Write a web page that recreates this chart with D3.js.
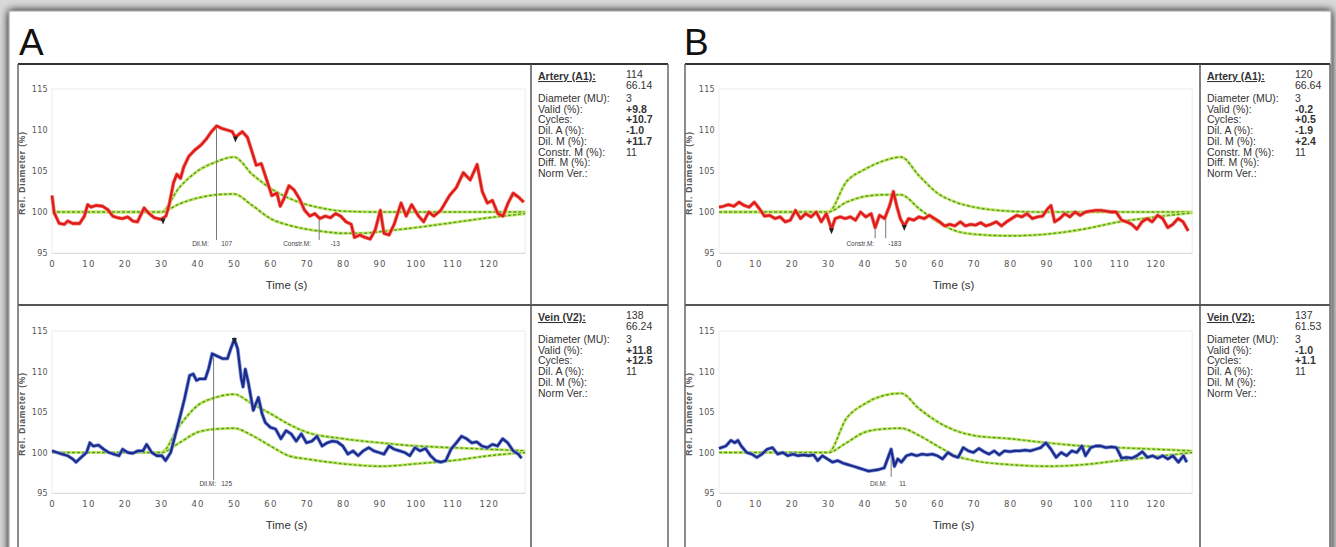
<!DOCTYPE html>
<html>
<head>
<meta charset="utf-8">
<script src="https://cdn.jsdelivr.net/npm/d3@7"></script>
<style>
  html, body { margin: 0; padding: 0; background: #d8d8d8; }
  svg { display: block; font-family: "Liberation Sans", Arial, sans-serif; }
</style>
</head>
<body>
<svg id="fig" width="1336" height="547"></svg>
<script>
// ---- data ----
const timeTicks = [0, 10, 20, 30, 40, 50, 60, 70, 80, 90, 100, 110, 120];
const diamTicks = [95, 100, 105, 110, 115];

// A, artery (red)
const arteryA = [[0,102.0],[0.6,99.9],[2,98.6],[3.4,98.5],[4.3,98.9],[5.7,98.6],[7.6,98.6],[8.9,99.5],[9.8,100.9],
  [10.7,100.6],[12.1,100.8],[13.9,100.7],[15.3,100.3],[16.7,99.5],[18,99.3],[19.4,99.2],[20.8,99.4],[22.2,98.9],
  [23.5,98.8],[25.3,100.5],[26.7,99.8],[28.1,99.3],[29.9,99.1],[31.3,99.5],[32.2,100.9],[33.4,103.6],[34.3,104.6],
  [35.3,104.1],[36.2,105.5],[37.6,106.8],[39.1,107.5],[41,108.2],[42.4,108.9],[43.8,109.8],[45.2,110.5],[46.6,110.2],
  [48.1,110.0],[49.5,109.8],[50.4,109.1],[51.4,109.5],[52.3,109.8],[53.7,109.1],[54.7,107.7],[56.1,105.7],[57.5,105.9],
  [59,103.9],[60.4,102.0],[61.8,102.3],[62.7,100.7],[63.7,101.6],[65.1,103.2],[66.5,102.7],[68,101.6],[69.4,100.2],
  [70.8,99.5],[72.2,99.8],[73.6,99.2],[75.1,99.5],[76.5,99.3],[77.9,99.8],[79.3,99.5],[80.8,98.8],[82.2,98.5],
  [83.1,96.9],[84.5,97.2],[86,96.9],[87.4,96.7],[88.8,97.8],[90.2,100.2],[91.2,97.4],[92.6,97.2],[94,98.5],
  [95.9,101.1],[97.3,99.5],[98.8,100.9],[100.7,99.5],[102.1,98.8],[103.5,100.0],[104.9,99.5],[106.8,100.2],
  [109.2,102.0],[111.1,103.0],[113,104.8],[114.9,103.9],[116.8,105.8],[118.2,102.5],[119.6,101.1],[121,101.4],
  [122.5,99.8],[123.9,99.5],[125.3,101.1],[126.7,102.3],[128.2,101.8],[129.6,101.2]];
const arteryAUpper = [[0,100],[30,100],[35,103.0],[40,105.0],[45,106.1],[50,106.7],[55,104.6],[60,102.9],[65,101.7],
  [70,100.9],[75,100.4],[80,100.1],[90,100],[130,100]];
const arteryALower = [[0,100],[30,100],[35,101.0],[40,101.7],[45,102.1],[50,102.2],[55,100.8],[60,99.2],[65,98.4],
  [70,97.9],[75,97.6],[80,97.4],[85,97.4],[90,97.6],[100,98.1],[110,98.7],[120,99.3],[130,99.8]];

// A, vein (blue)
const veinA = [[0,100.2],[1.4,100],[2.8,99.8],[4.3,99.6],[5.7,99.2],[6.6,98.8],[8,99.4],[9.5,100],[10.4,101.2],
  [11.3,100.8],[12.8,100.9],[14.2,100.4],[15.6,100],[17,99.8],[18.4,99.6],[19.4,100.4],[20.8,100],[22.2,99.9],
  [23.6,100.2],[25,100.2],[26,101.0],[27.4,100],[28.8,99.6],[30.2,99.6],[31.2,99.0],[32.6,100],[33.6,101.7],
  [35,104.1],[36.4,106.6],[37.8,109.5],[38.8,109.7],[39.7,108.9],[40.6,109.1],[42.1,109.1],[43,110.3],[44,112.2],
  [45.4,111.9],[46.8,111.6],[48.2,111.6],[49.1,112.8],[50.1,114.0],[51,112.8],[52,109.1],[52.5,108.1],[53.1,110.3],
  [53.9,108.7],[55.3,105.2],[56.7,106.8],[57.7,104.8],[58.6,103.7],[60,103.1],[61.4,102.9],[62.9,101.7],[64.3,102.7],
  [65.7,102.3],[67.1,101.4],[68.5,102.3],[69.9,101.2],[71.4,101.4],[72.8,102.0],[74.2,100.8],[75.6,101.2],[77,101.4],
  [78.4,101.3],[79.9,100.8],[81.3,99.8],[82.7,100.2],[84.1,99.6],[85.5,100.2],[87,100.6],[88.4,100.2],[89.8,100],
  [91.2,99.8],[92.6,100.8],[94,100.4],[95.5,100.2],[96.9,100],[98.3,99.6],[99.7,100.6],[101.1,100.2],[102.6,100.5],
  [104,99.6],[105.4,99.0],[106.8,98.8],[108.2,99.0],[109.6,100.4],[111.1,101.2],[112.5,102.0],[113.9,101.7],
  [115.3,101.2],[116.7,101.3],[118.1,100.8],[119.6,100.6],[121,101.0],[122.4,100.8],[123.8,101.7],[125.2,101.2],
  [126.7,100.2],[128.1,99.8],[129,99.3]];
const veinAUpper = [[0,100],[30,100],[35,103.3],[40,105.8],[45,106.8],[50,107.2],[55,106.0],[60,104.8],[65,103.5],
  [70,102.5],[80,101.7],[90,101.2],[100,100.8],[110,100.6],[120,100.4],[130,100.2]];
const veinALower = [[0,100],[30,100],[35,101.2],[40,102.5],[45,102.9],[50,103.0],[55,102.1],[60,100.8],[65,99.6],
  [70,99.2],[80,98.6],[90,98.3],[100,98.6],[110,99.0],[120,99.6],[130,100]];

// B, artery (red)
const arteryB = [[0,100.6],[1.2,100.7],[2.6,100.9],[4.1,100.7],[5.5,101.2],[6.9,100.8],[8.3,100.6],[9.7,101.2],
  [11.1,100.4],[12.5,99.5],[13.9,99.6],[15.4,99.2],[16.8,99.4],[18.2,98.8],[19.6,99.0],[21,100.2],[22.4,99.2],
  [23.8,99.8],[25.3,99.4],[26.7,100],[28.1,98.8],[29.5,99.8],[30.9,97.9],[31.9,99.2],[33.3,99.4],[34.7,99.2],
  [36.1,99.4],[37.5,99.0],[38.9,100],[40.3,99.4],[41.8,99.8],[42.9,98.1],[44.1,99.6],[45.5,99.2],[46.9,100.8],
  [47.9,102.5],[48.8,100.8],[49.8,99.2],[50.9,98.3],[52.1,99.2],[53.5,99.0],[54.9,99.4],[56.4,99.2],[57.8,99.6],
  [59.2,99.2],[60.6,98.8],[62,98.3],[63.4,98.5],[64.8,98.3],[66.3,98.8],[67.7,98.3],[69.1,98.5],[70.5,98.4],
  [71.9,98.7],[73.3,98.3],[74.7,98.5],[76.2,98.8],[77.6,98.3],[79,98.8],[80.4,99.2],[81.8,99.6],[83.2,99.4],
  [84.6,99.8],[86.1,99.2],[87.5,99.4],[88.9,99.5],[90.3,100.4],[91.2,100.8],[92.2,98.8],[93.6,99.2],[95,99.8],
  [96.4,99.4],[97.8,100],[99.2,99.6],[100.7,100],[102.1,100.1],[103.5,100.2],[104.9,100.2],[106.3,100.1],
  [107.7,100],[109.1,100],[110.6,99.0],[112,98.8],[113.4,98.5],[114.8,97.9],[116.2,98.8],[117.6,99.2],[119,98.8],
  [120.5,99.6],[121.9,99.2],[123.3,98.1],[124.7,98.5],[126.1,99.2],[127.5,98.8],[128.9,97.7]];
const arteryBUpper = [[0,100],[30,100],[35,103.7],[40,105.2],[45,106.2],[50,106.7],[55,104.4],[60,102.3],[65,101.2],
  [70,100.6],[80,100.1],[90,100],[130,100]];
const arteryBLower = [[0,100],[30,100],[35,101.2],[40,101.9],[45,102.1],[50,102.1],[55,100.4],[60,98.8],[65,97.7],
  [70,97.3],[80,97.1],[90,97.3],[100,97.9],[110,98.8],[120,99.4],[130,99.9]];

// B, vein (blue)
const veinB = [[0,100.5],[1.9,100.8],[3.3,101.5],[4.3,101.2],[5.2,101.5],[6.1,100.8],[7.6,100],[9,99.8],[10.4,99.4],
  [11.8,99.8],[13.2,100.4],[14.7,100.6],[16.1,99.8],[17.5,100],[18.9,99.6],[20.3,99.8],[21.7,99.6],[23.2,99.7],
  [24.6,99.6],[26,99.7],[27.1,99.0],[28.4,99.6],[29.8,99.2],[31.2,98.8],[32.6,99.0],[34,98.7],[35.4,98.5],
  [36.9,98.3],[38.3,98.1],[39.7,97.9],[41.1,97.7],[42.5,97.8],[43.9,97.9],[45.4,98.1],[46.3,99.2],[47.3,100.4],
  [48.2,98.3],[49.1,99.2],[50.1,98.8],[51.5,99.6],[52.9,99.8],[54.3,99.6],[55.8,99.8],[57.2,99.7],[58.6,99.8],
  [60,99.6],[61.4,99.2],[62.9,100],[64.3,99.6],[65.7,99.4],[67.1,100.6],[68.5,100.2],[69.9,100],[71.4,100.5],
  [72.8,100.1],[74.2,99.8],[75.6,100.2],[77,99.7],[78.4,100.2],[79.9,100.1],[81.3,100.2],[82.7,100.2],[84.1,100.3],
  [85.5,100.2],[87,100.4],[88.4,100.6],[89.8,101.2],[91.2,100.4],[92.6,99.4],[94,100],[95.5,99.6],[96.9,100.2],
  [98.3,100],[99.7,100.8],[100.7,99.6],[102.1,100.6],[103.5,100.8],[104.9,100.8],[106.3,100.6],[107.8,100.7],
  [109.2,100.6],[110.6,99.3],[112,99.4],[113.4,99.3],[114.8,99.6],[116.3,100.1],[117.7,99.4],[119.1,99.6],
  [120.5,99.3],[121.9,99.6],[123.3,99.2],[124.7,99.6],[126.2,98.8],[127.6,99.6],[128.5,98.8]];
const veinBUpper = [[0,100],[30,100],[35,104.2],[40,106.0],[45,107.0],[50,107.3],[55,105.4],[60,103.8],[65,102.7],
  [70,102.1],[80,101.7],[90,101.2],[100,100.8],[110,100.6],[120,100.4],[130,100.2]];
const veinBLower = [[0,100],[30,100],[35,101.2],[40,102.5],[45,102.9],[50,103.0],[55,102.1],[60,100.8],[65,99.6],
  [70,99.0],[80,98.5],[90,98.3],[100,98.5],[110,99.0],[120,99.5],[130,100]];

// info boxes: labels / values
const infoLabelsArtery = ["Diameter (MU):", "Valid (%):", "Cycles:", "Dil. A (%):", "Dil. M (%):", "Constr. M (%):", "Diff. M (%):", "Norm Ver.:"];
const infoLabelsVein = ["Diameter (MU):", "Valid (%):", "Cycles:", "Dil. A (%):", "Dil. M (%):", "Norm Ver.:"];
const infoValuesArteryA = ["3", "+9.8", "+10.7", "-1.0", "+11.7", "11", "", ""];
const infoValuesVeinA = ["3", "+11.8", "+12.5", "11", "", ""];
const infoValuesArteryB = ["3", "-0.2", "+0.5", "-1.9", "+2.4", "11", "", ""];
const infoValuesVeinB = ["3", "-1.0", "+1.1", "11", "", ""];

// annotation markers: [time, vTop, vBottom]
const markLinesArteryA = [[45.2, 110.5, 96.6], [73.4, 99.2, 96.6]];
const markTextArteryA = [[38.5, "Dil.M:"], [46.5, "107"], [63.5, "Constr.M:"], [76.5, "-13"]];
const markLinesVeinA = [[44.4, 112.1, 96.6]];
const markTextVeinA = [[40.5, "Dil.M:"], [46.5, "125"]];
const markLinesArteryB = [[42.9, 98.1, 96.8], [45.8, 99.3, 96.8]];
const markTextArteryB = [[35, "Constr.M:"], [46.5, "-183"]];
const markLinesVeinB = [[47.3, 99.8, 97.0]];
const markTextVeinB = [[41.5, "Dil.M:"], [49.5, "11"]];
const cycleMarksArteryA = [[30.5, 99.1], [50.4, 109.1]];
const cycleMarksVeinA = [[50.1, 114.0]];
const cycleMarksArteryB = [[30.9, 97.9], [50.9, 98.3]];
const cycleMarksVeinB = [];

// ---- drawing ----
const svg = d3.select("#fig");

const defs = svg.append("defs");
const sh = defs.append("filter").attr("id", "shadow").attr("x", "-5%").attr("y", "-5%").attr("width", "110%").attr("height", "110%");
sh.append("feGaussianBlur").attr("in", "SourceAlpha").attr("stdDeviation", 4);
sh.append("feOffset").attr("dx", 0).attr("dy", 0).attr("result", "b");
const m = sh.append("feMerge");
m.append("feMergeNode").attr("in", "b");
m.append("feMergeNode").attr("in", "SourceGraphic");

svg.append("rect").attr("width", 1336).attr("height", 547).attr("fill", "#d9d9d9");
svg.append("rect").attr("x", 9).attr("y", 11).attr("width", 1322).attr("height", 560)
  .attr("fill", "#ffffff").attr("stroke", "#9a9a9a").attr("stroke-width", 1).attr("filter", "url(#shadow)");

function drawPanel(p) {
  const g = svg.append("g");
  g.append("text").attr("x", p.letterX).attr("y", 55).attr("font-size", 37)
    .attr("fill", "#111").text(p.letter);

  // clip for info text that runs off the box
  defs.append("clipPath").attr("id", "clip" + p.letter)
    .append("rect").attr("x", p.x0).attr("y", p.top).attr("width", p.x1 - p.x0).attr("height", 600);

  p.plots.forEach(pl => drawPlot(g, p, pl));

  // frame
  g.append("line").attr("x1", p.x0).attr("x2", p.x1).attr("y1", p.top).attr("y2", p.top)
    .attr("stroke", "#333").attr("stroke-width", 2);
  g.append("line").attr("x1", p.x0).attr("x2", p.x1).attr("y1", p.mid).attr("y2", p.mid)
    .attr("stroke", "#555").attr("stroke-width", 2);
  [p.x0, p.x1].forEach(x => g.append("line").attr("x1", x).attr("x2", x).attr("y1", p.top).attr("y2", 560)
    .attr("stroke", "#666").attr("stroke-width", 1.5));
  g.append("line").attr("x1", p.info).attr("x2", p.info).attr("y1", p.top).attr("y2", 560)
    .attr("stroke", "#555").attr("stroke-width", 1.5);
}

function drawPlot(g, p, pl) {
  const x = d3.scaleLinear().domain([0, 130]).range([p.plotX0, p.plotX0 + 130 * 3.64]);
  const y = d3.scaleLinear().domain([95, 115]).range([pl.yBottom, pl.yTop]);

  // faint plot frame
  g.append("rect").attr("x", x(0)).attr("y", y(115)).attr("width", x(130) - x(0)).attr("height", y(95) - y(115))
    .attr("fill", "none").attr("stroke", "#ececec").attr("stroke-width", 1);

  // axes
  const xa = g.append("g").attr("transform", `translate(0,${y(95)})`)
    .call(d3.axisBottom(x).tickValues(timeTicks).tickSize(0).tickPadding(8));
  xa.select(".domain").attr("stroke", "#dcdcdc");
  xa.selectAll("text").attr("font-size", 8.5).attr("fill", "#555").attr("font-family", "'DejaVu Sans', sans-serif").attr("letter-spacing", 1.2);

  const ya = g.append("g").attr("transform", `translate(${x(0)},0)`)
    .call(d3.axisLeft(y).tickValues(diamTicks).tickSize(0).tickPadding(4));
  ya.select(".domain").remove();
  ya.selectAll("text").attr("font-size", 8).attr("fill", "#555").attr("font-family", "'DejaVu Sans', sans-serif").attr("letter-spacing", 0.3);

  g.append("text").attr("x", (x(0) + x(130)) / 2 - 2).attr("y", y(95) + 36).attr("text-anchor", "middle")
    .attr("font-size", 11.5).attr("fill", "#333").text("Time (s)");
  g.append("text").attr("transform", `translate(${x(0) - 27},${(y(95) + y(115)) / 2 + 2}) rotate(-90)`)
    .attr("text-anchor", "middle").attr("font-size", 8.5).attr("font-weight", "bold").attr("fill", "#555")
    .attr("letter-spacing", 0.8).text("Rel. Diameter (%)");

  // reference curves (green dashed)
  const smooth = d3.line().x(d => x(d[0])).y(d => y(d[1])).curve(d3.curveMonotoneX);
  [pl.upper, pl.lower].forEach(c => {
    g.append("path").attr("d", smooth(c)).attr("fill", "none").attr("stroke", "#c9e86a").attr("stroke-width", 3);
    g.append("path").attr("d", smooth(c)).attr("fill", "none").attr("stroke", "#4e9e2f")
      .attr("stroke-width", 1.4).attr("stroke-dasharray", "3,2");
  });

  // annotation lines and labels
  pl.markLines.forEach(d => g.append("line").attr("x1", x(d[0])).attr("x2", x(d[0]))
    .attr("y1", y(d[1])).attr("y2", y(d[2])).attr("stroke", "#777").attr("stroke-width", 1));
  pl.markText.forEach(d => g.append("text").attr("x", x(d[0])).attr("y", y(96.2) + 3)
    .attr("font-size", 6.5).attr("fill", "#444").text(d[1]));

  // measured trace
  const lin = d3.line().x(d => x(d[0])).y(d => y(d[1]));
  g.append("path").attr("d", lin(pl.trace)).attr("fill", "none").attr("stroke", pl.halo)
    .attr("stroke-width", 3.8).attr("stroke-linejoin", "round");
  g.append("path").attr("d", lin(pl.trace)).attr("fill", "none").attr("stroke", pl.color)
    .attr("stroke-width", 2.3).attr("stroke-linejoin", "round");

  // cycle markers
  pl.cycles.forEach(d => g.append("path")
    .attr("d", `M${x(d[0]) - 2.5},${y(d[1]) - 1}L${x(d[0]) + 2.5},${y(d[1]) - 1}L${x(d[0])},${y(d[1]) + 5}Z`)
    .attr("fill", "#222"));

  // info box
  const ig = g.append("g").attr("clip-path", `url(#clip${p.letter})`).attr("font-size", 10.5).attr("fill", "#333");
  const lx = p.info + 7, vx = p.info + 95, t0 = pl.boxTop;
  ig.append("text").attr("x", lx).attr("y", t0 + 16).attr("font-weight", "bold")
    .attr("text-decoration", "underline").text(pl.title);
  ig.append("text").attr("x", vx).attr("y", t0 + 14).text(pl.nums[0]);
  ig.append("text").attr("x", vx).attr("y", t0 + 25).text(pl.nums[1]);
  pl.labels.forEach((lab, i) => {
    const yy = t0 + 38 + i * 10.7;
    ig.append("text").attr("x", lx).attr("y", yy).text(lab);
    const v = pl.values[i];
    ig.append("text").attr("x", vx).attr("y", yy)
      .attr("font-weight", /^[+-]/.test(v) ? "bold" : "normal").text(v);
  });
}

const panels = [
  { letter: "A", letterX: 19, x0: 18, x1: 668, info: 531, top: 64, mid: 305, plotX0: 52,
    plots: [
      { yTop: 89, yBottom: 253, boxTop: 64, trace: arteryA, upper: arteryAUpper, lower: arteryALower,
        color: "#e01a1a", halo: "#f08a7a", markLines: markLinesArteryA, markText: markTextArteryA, cycles: cycleMarksArteryA,
        title: "Artery (A1):", nums: ["114", "66.14"], labels: infoLabelsArtery, values: infoValuesArteryA },
      { yTop: 331, yBottom: 493, boxTop: 305, trace: veinA, upper: veinAUpper, lower: veinALower,
        color: "#1c2b8c", halo: "#8aa0e0", markLines: markLinesVeinA, markText: markTextVeinA, cycles: cycleMarksVeinA,
        title: "Vein (V2):", nums: ["138", "66.24"], labels: infoLabelsVein, values: infoValuesVeinA }
    ] },
  { letter: "B", letterX: 684, x0: 685, x1: 1330, info: 1200, top: 64, mid: 305, plotX0: 719,
    plots: [
      { yTop: 89, yBottom: 253, boxTop: 64, trace: arteryB, upper: arteryBUpper, lower: arteryBLower,
        color: "#e01a1a", halo: "#f08a7a", markLines: markLinesArteryB, markText: markTextArteryB, cycles: cycleMarksArteryB,
        title: "Artery (A1):", nums: ["120", "66.64"], labels: infoLabelsArtery, values: infoValuesArteryB },
      { yTop: 331, yBottom: 493, boxTop: 305, trace: veinB, upper: veinBUpper, lower: veinBLower,
        color: "#1c2b8c", halo: "#8aa0e0", markLines: markLinesVeinB, markText: markTextVeinB, cycles: cycleMarksVeinB,
        title: "Vein (V2):", nums: ["137", "61.53"], labels: infoLabelsVein, values: infoValuesVeinB }
    ] }
];

panels.forEach(drawPanel);
</script>
</body>
</html>
